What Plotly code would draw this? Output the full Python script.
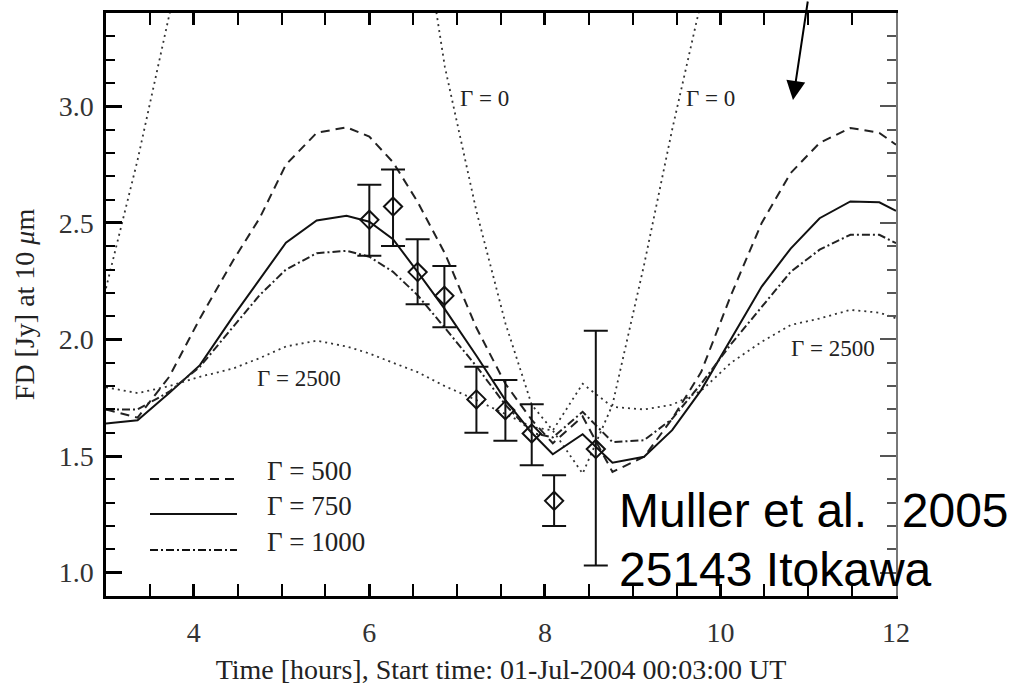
import plotly.graph_objects as go

# ---- data ----
t_model = [3.0, 3.36, 3.72, 4.07, 4.45, 4.75, 5.05, 5.4, 5.74, 6.0, 6.27, 6.55, 6.86, 7.22,
           7.55, 7.85, 8.09, 8.43, 8.77, 9.13, 9.45, 9.78, 10.12, 10.47, 10.8, 11.13, 11.48,
           11.81, 12.0]
fd_g0 = [2.22, 2.77, 3.39, 3.95, 4.4, 4.7, 4.9, 5.0, 5.0, 4.9, 4.6, 3.92, 3.17, 2.55, 2.07,
         1.72, 1.61, 1.425, 1.72, 2.32, 2.90, 3.45, 4.0, 4.4, 4.7, 4.9, 5.0, 4.95, 4.9]
fd_g500 = [1.70, 1.665, 1.84, 2.09, 2.34, 2.52, 2.75, 2.886, 2.91, 2.87, 2.76, 2.59, 2.37, 2.05,
           1.81, 1.655, 1.555, 1.67, 1.432, 1.497, 1.66, 1.86, 2.19, 2.50, 2.714, 2.843, 2.907,
           2.886, 2.835]
fd_g750 = [1.64, 1.654, 1.77, 1.89, 2.10, 2.26, 2.415, 2.51, 2.53, 2.505, 2.43, 2.29, 2.13, 1.93,
           1.74, 1.60, 1.508, 1.594, 1.472, 1.497, 1.611, 1.783, 2.00, 2.227, 2.39, 2.52, 2.592,
           2.588, 2.552]
fd_g1000 = [1.70, 1.70, 1.776, 1.883, 2.055, 2.19, 2.30, 2.37, 2.38, 2.355, 2.29, 2.19, 2.05, 1.885,
            1.72, 1.60, 1.58, 1.69, 1.56, 1.568, 1.66, 1.81, 1.98, 2.14, 2.29, 2.385, 2.449,
            2.449, 2.413]
fd_g2500 = [1.795, 1.77, 1.80, 1.84, 1.876, 1.92, 1.97, 1.995, 1.97, 1.94, 1.90, 1.86, 1.80, 1.74,
            1.68, 1.625, 1.61, 1.81, 1.711, 1.70, 1.72, 1.78, 1.90, 1.99, 2.062, 2.09, 2.127,
            2.115, 2.091]

t_obs = [6.00, 6.27, 6.55, 6.855, 7.22, 7.55, 7.85, 8.105, 8.58]
fd_obs = [2.513, 2.570, 2.289, 2.187, 1.743, 1.697, 1.597, 1.308, 1.530]
err_plus = [0.151, 0.159, 0.141, 0.128, 0.140, 0.129, 0.125, 0.110, 0.507]
err_minus = [0.154, 0.169, 0.138, 0.135, 0.143, 0.131, 0.136, 0.108, 0.499]

legend_labels = ["Γ = 500", "Γ = 750", "Γ = 1000"]

SERIF = "Liberation Serif"
DASH = "9px,6px"
DASHDOT = "8px,3px,2px,3px"
DOT = "2px,4px"

fig = go.Figure()

fig.add_trace(go.Scatter(x=t_model, y=fd_g0, mode="lines",
                         line=dict(color="#333", width=1.8, dash=DOT), showlegend=False))
fig.add_trace(go.Scatter(x=t_model, y=fd_g2500, mode="lines",
                         line=dict(color="#333", width=1.8, dash=DOT), showlegend=False))
fig.add_trace(go.Scatter(x=t_model, y=fd_g500, mode="lines",
                         line=dict(color="#222", width=2, dash=DASH), showlegend=False))
fig.add_trace(go.Scatter(x=t_model, y=fd_g750, mode="lines",
                         line=dict(color="#111", width=2), showlegend=False))
fig.add_trace(go.Scatter(x=t_model, y=fd_g1000, mode="lines",
                         line=dict(color="#222", width=2, dash=DASHDOT), showlegend=False))
fig.add_trace(go.Scatter(
    x=t_obs, y=fd_obs, mode="markers",
    marker=dict(symbol="diamond-open", size=14, color="#111", line=dict(width=2, color="#111")),
    error_y=dict(type="data", symmetric=False, array=err_plus, arrayminus=err_minus,
                 color="#111", thickness=2, width=12),
    showlegend=False))
# empty trace to hold the right-hand axis
fig.add_trace(go.Scatter(x=[], y=[], yaxis="y2", showlegend=False))

# ---- legend (drawn manually in paper coordinates) ----
leg_dash = [DASH, "solid", DASHDOT]
leg_y_line = [0.2007, 0.1407, 0.0789]
leg_y_text = [0.2144, 0.1544, 0.0926]
for lab, d, yl, yt in zip(legend_labels, leg_dash, leg_y_line, leg_y_text):
    fig.add_shape(type="line", xref="paper", yref="paper", x0=0.0557, x1=0.1658, y0=yl, y1=yl,
                  line=dict(color="#111", width=2, dash=d))
    fig.add_annotation(xref="paper", yref="paper", x=0.2013, y=yt, text=lab, showarrow=False,
                       xanchor="left", yanchor="middle",
                       font=dict(family=SERIF, size=27, color="#222"))

# ---- curve labels ----
for txt, x, y in [("Γ = 0", 0.4797, 0.8525), ("Γ = 0", 0.7646, 0.8525),
                  ("Γ = 2500", 0.2437, 0.3739), ("Γ = 2500", 0.9203, 0.4237)]:
    fig.add_annotation(xref="paper", yref="paper", x=x, y=y, text=txt, showarrow=False,
                       xanchor="center", yanchor="middle",
                       font=dict(family=SERIF, size=23, color="#222"))

# ---- big overlay text ----
fig.add_annotation(xref="paper", yref="paper", x=0.6468, y=0.1475,
                   text="Muller et al.\u00a0\u200a\u200a 2005", showarrow=False,
                   xanchor="left", yanchor="middle",
                   font=dict(family="Liberation Sans", size=48, color="black"))
fig.add_annotation(xref="paper", yref="paper", x=0.6468, y=0.0446,
                   text="25143 Itokawa", showarrow=False,
                   xanchor="left", yanchor="middle",
                   font=dict(family="Liberation Sans", size=48, color="black"))

# ---- arrow ----
fig.add_annotation(xref="paper", yref="paper", x=0.8696, y=0.8508, text="",
                   showarrow=True, ax=15, ay=-110, arrowhead=2, arrowsize=1.9,
                   arrowwidth=2, arrowcolor="black")

fig.update_layout(
    width=1012, height=685,
    margin=dict(l=106, r=116, t=13, b=89),
    paper_bgcolor="white", plot_bgcolor="white",
    font=dict(family=SERIF, size=28, color="#222"),
    xaxis=dict(range=[3, 12], tick0=0, dtick=2, ticks="inside", ticklen=12, tickwidth=2.5,
               tickcolor="black", showline=True, linewidth=2.5, linecolor="black",
               mirror="allticks", showgrid=False, zeroline=False, automargin=False,
               minor=dict(dtick=0.5, ticks="inside", ticklen=7, tickwidth=2, tickcolor="black"),
               tickfont=dict(family=SERIF, size=28, color="#333"),
               ticklabelstandoff=10,
               title=dict(text="Time [hours], Start time: 01-Jul-2004 00:03:00 UT",
                          font=dict(family=SERIF, size=28, color="#222"), standoff=16)),
    yaxis=dict(range=[0.9, 3.4], tick0=0, dtick=0.5, tickformat=".1f", ticks="inside",
               ticklen=16, tickwidth=2.5, tickcolor="black", showline=True, linewidth=2.5,
               linecolor="black", mirror=False, showgrid=False, zeroline=False, automargin=False,
               minor=dict(dtick=0.1, ticks="inside", ticklen=9, tickwidth=2, tickcolor="black"),
               tickfont=dict(family=SERIF, size=28, color="#333"),
               ticklabelstandoff=4,
               title=dict(text="FD [Jy] at 10 <i>μ</i>m",
                          font=dict(family=SERIF, size=28, color="#222"), standoff=16)),
    yaxis2=dict(range=[0.9, 3.4], overlaying="y", side="right", anchor="x", tick0=0, dtick=0.5,
                ticks="inside", ticklen=16, tickwidth=2, tickcolor="#555", showline=True,
                linewidth=2, linecolor="#777", showticklabels=False, showgrid=False,
                zeroline=False, automargin=False,
                minor=dict(dtick=0.1, ticks="inside", ticklen=9, tickwidth=2, tickcolor="#555")),
)

fig.write_html("out.html")
